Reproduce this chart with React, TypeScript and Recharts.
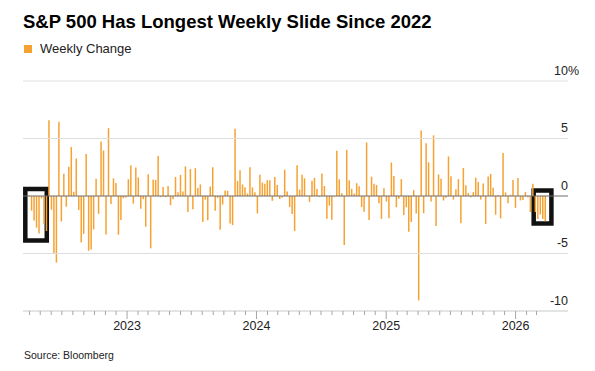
import { Bar, BarChart, ReferenceArea, ReferenceLine, XAxis, YAxis } from 'recharts'

const SERIES_NAME = 'Weekly Change'
const TITLE = 'S&P 500 Has Longest Weekly Slide Since 2022'
const SOURCE = 'Source: Bloomberg'
const ORANGE = '#F6A233'
const FONT = '"Liberation Sans", Arial, Helvetica, sans-serif'

// weekly % change, first bar is the week ending 2022-04-01, then every 7 days
const FIRST_WEEK = Date.UTC(2022, 3, 1)

const w2022 = [
  0.06, -1.27, -2.13, -2.75, -3.27, -0.21, -2.41, -3.05, 6.58, -1.2, -5.05, -5.79, 6.45, -2.21,
  1.94, -0.93, 2.55, 4.26, 0.36, 3.26, -1.21, -4.04, -3.29, 3.65, -4.77, -4.65, -2.91, 1.51,
  -1.55, 4.74, 3.95, -3.35, 5.9, -0.69, 1.53, 1.13, -3.37, -2.08, -0.2, -0.14,
]
const w2023 = [
  1.45, 2.67, -0.66, 2.47, 1.62, -1.11, -0.28, -2.67, 1.9, -4.55, 1.43, 1.39, 3.48, -0.1, 0.79,
  -0.1, 0.87, -0.8, -0.29, 1.65, 0.32, 1.83, 0.39, 2.58, -1.39, 2.35, -1.16, 2.42, 0.69, 1.01,
  -2.27, -0.31, -2.11, 0.82, 2.5, -1.29, -0.16, -2.93, -0.74, 0.48, 0.45, -2.39, -2.53, 5.85,
  1.31, 2.24, 1.0, 0.77, 0.21, 2.49, 0.75, 0.32,
]
const w2024 = [
  -1.52, 1.84, 1.17, 1.06, 1.38, 1.37, -0.42, 1.66, 0.95, -0.26, -0.13, 2.29, 0.39, -0.95, -1.56,
  -3.05, 2.67, 0.55, 1.85, 1.54, 0.03, -0.51, 1.32, 1.58, 0.61, -0.08, 1.95, 0.87, -1.97, -0.83,
  -2.06, -0.04, 3.93, 1.45, 0.24, -4.25, 4.02, 1.36, 0.62, 0.22, 1.11, 0.85, -0.96, -1.37, 4.66,
  -2.08, 1.68, 1.06, 0.96, -0.64, -1.99, 0.67,
]
const w2025 = [
  -0.48, -1.94, 2.91, 1.74, -0.98, -0.24, 1.47, -1.66, -0.98, -3.1, -2.27, 0.51, -1.53, -9.08,
  5.7, -1.5, 4.59, 2.92, -0.47, 5.27, -2.61, 1.88, 1.5, -0.39, -0.15, 3.44, 1.72, -0.31, 0.59,
  1.46, -2.36, 2.43, 0.94, 0.27, -0.1, 0.33, 1.59, 1.22, -0.31, 1.09, -2.43, 1.7, 1.92, 0.71,
  -1.63, 0.08, -1.95, 3.73, 0.31, -0.63, 0.1, 1.4,
]
const w2026 = [-1.03, 1.57, -0.38, -0.35, 0.34, -0.1, -1.39, 1.07, -1.4, -2.0, -1.6, -2.0, -2.2]

const Y_LABELS = [
  { v: 10, text: '10', unit: '%' },
  { v: 5, text: '5', unit: '' },
  { v: 0, text: '0', unit: '' },
  { v: -5, text: '-5', unit: '' },
  { v: -10, text: '-10', unit: '' },
]
const YEAR_LABELS = ['2023', '2024', '2025', '2026']

const DAY = 86_400_000
const dayOf = (y: number, m: number, d: number) => (Date.UTC(y, m, d) - FIRST_WEEK) / DAY

const values = [...w2022, ...w2023, ...w2024, ...w2025, ...w2026]
const data = values.map((v, i) => ({ t: i * 7, v }))
const LAST_T = (values.length - 1) * 7

// x domain in days from first week, slightly wider than the data (labels sit at the right end)
const X_DOMAIN: [number, number] = [-18.6, 1518.8]

// month ticks along the bottom, year ticks get a label
const monthTicks: number[] = []
for (let y = 2022; y <= 2026; y++) {
  for (let m = 0; m < 12; m++) {
    const t = dayOf(y, m, 1)
    if (t >= 0 && t <= LAST_T) monthTicks.push(t)
  }
}
const yearAt = new Map(YEAR_LABELS.map((l) => [dayOf(Number(l), 0, 1), l]))

// the two highlighted slides (days from first week / percent)
const BOXES = [
  { x1: -12.1, x2: 48.5, y1: 0.61, y2: -3.86 },
  { x1: 1422, x2: 1472, y1: 0.48, y2: -2.39 },
]

function TimeTick(props: any) {
  const { x, y, payload } = props
  const label = yearAt.get(payload.value)
  return (
    <g>
      <line x1={x} x2={x} y1={y} y2={y + (label ? 8 : 4)} stroke="#a6a6a6" strokeWidth={1} />
      {label && (
        <text x={x} y={y + 19} textAnchor="middle" fontSize={12.5} fill="#222" fontFamily={FONT}>
          {label}
        </text>
      )}
    </g>
  )
}

const gridLabel = (text: string, unit: string) => (props: any) => {
  const vb = props.viewBox
  const xr = vb.x + vb.width
  const y = vb.y - 6.5
  return (
    <g>
      <text x={xr} y={y} textAnchor="end" fontSize={12.5} fill="#222" fontFamily={FONT}>
        {text}
      </text>
      {unit && (
        <text x={xr} y={y} textAnchor="start" fontSize={12.5} fill="#222" fontFamily={FONT}>
          {unit}
        </text>
      )}
    </g>
  )
}

export default function App() {
  return (
    <div
      style={{
        position: 'absolute',
        left: 0,
        top: 0,
        width: 595,
        height: 371,
        background: '#fff',
        fontFamily: FONT,
        overflow: 'hidden',
      }}
    >
      <div
        style={{
          position: 'absolute',
          left: 23,
          top: 13.3,
          fontSize: 18.5,
          lineHeight: 1,
          fontWeight: 700,
          color: '#000',
          whiteSpace: 'nowrap',
        }}
      >
        {TITLE}
      </div>
      <div style={{ position: 'absolute', left: 24, top: 45, width: 8, height: 8, background: ORANGE }} />
      <div
        style={{
          position: 'absolute',
          left: 40,
          top: 41.7,
          fontSize: 13,
          lineHeight: 1,
          color: '#222',
          whiteSpace: 'nowrap',
        }}
      >
        {SERIES_NAME}
      </div>

      <div style={{ position: 'absolute', left: 0, top: 0 }}>
        <BarChart width={595} height={371} data={data} margin={{ top: 81, right: 27, bottom: 30, left: 23 }}>
          <XAxis
            type="number"
            dataKey="t"
            domain={X_DOMAIN}
            allowDataOverflow
            ticks={monthTicks}
            interval={0}
            tick={<TimeTick />}
            tickLine={false}
            tickSize={0}
            tickMargin={0}
            axisLine={{ stroke: '#c9c9c9' }}
            height={30}
          />
          <YAxis hide domain={[-10, 10]} allowDataOverflow />
          {Y_LABELS.filter((l) => l.v !== 0).map((l) => (
            <ReferenceLine
              key={l.v}
              y={l.v}
              stroke={l.v === -10 ? 'none' : '#dedede'}
              strokeWidth={1}
              label={gridLabel(l.text, l.unit)}
            />
          ))}
          <Bar dataKey="v" fill={ORANGE} barSize={1.5} isAnimationActive={false} />
          <ReferenceLine y={0} stroke="#6b6b6b" strokeWidth={1} label={gridLabel('0', '')} />
          {BOXES.map((b, i) => (
            <ReferenceArea
              key={i}
              x1={b.x1}
              x2={b.x2}
              y1={b.y1}
              y2={b.y2}
              fill="none"
              fillOpacity={0}
              stroke="#111"
              strokeWidth={4.5}
              ifOverflow="visible"
            />
          ))}
        </BarChart>
      </div>

      <div
        style={{
          position: 'absolute',
          left: 24,
          top: 350,
          fontSize: 10.5,
          lineHeight: 1,
          color: '#222',
          whiteSpace: 'nowrap',
        }}
      >
        {SOURCE}
      </div>
    </div>
  )
}
